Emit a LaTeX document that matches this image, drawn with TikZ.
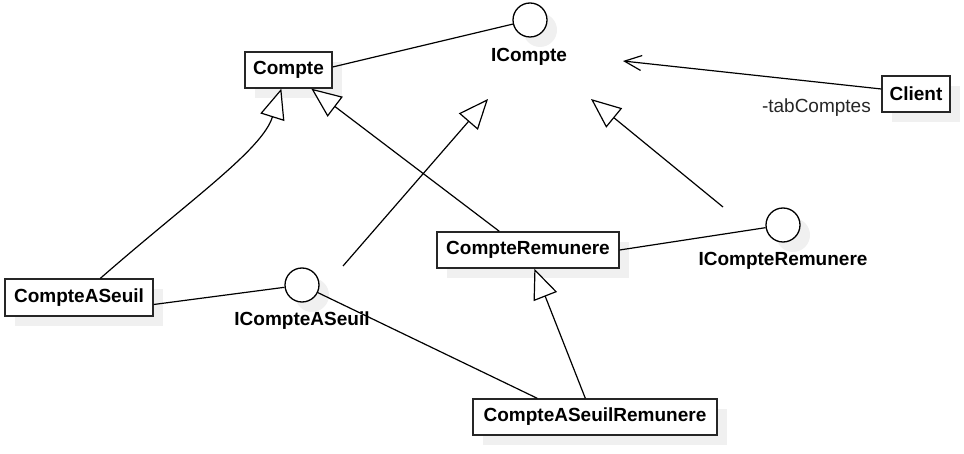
\documentclass[tikz,border=0pt]{standalone}
\usepackage{fontspec}
\setmainfont{Liberation Sans}
\usetikzlibrary{arrows.meta,shadows,calc}
\begin{document}
\begin{tikzpicture}[x=1pt,y=-1pt,
  shad/.style={drop shadow={shadow xshift=10pt,shadow yshift=-10pt,fill=black!6,opacity=1,draw=none}},
  cls/.style={draw=black!85,line width=1.3pt,fill=white,inner sep=0pt,shad,
    font=\bfseries\fontsize{19}{22}\selectfont},
  iface/.style={circle,draw=black,line width=1.3pt,fill=white,minimum size=34pt,inner sep=0pt,shad},
  lbl/.style={inner sep=0pt,font=\bfseries\fontsize{19}{22}\selectfont},
  rlbl/.style={inner sep=0pt,font=\fontsize{19}{22}\selectfont,text=black!85},
  conn/.style={line width=1.2pt,black},
  inh/.style={conn,-{Triangle[fill=white,length=30pt,width=25pt]}},
  assoc/.style={conn,-{Straight Barb[length=17pt,width=15pt]}}]
\useasboundingbox (0,0) rectangle (964,454);

% classes
\node[cls,minimum width=87pt,minimum height=36pt] (Compte) at (288.5,70) {Compte};
\node[cls,minimum width=68pt,minimum height=36pt] (Client) at (916,94) {Client};
\node[cls,minimum width=148pt,minimum height=37pt] (CAS) at (79,297.5) {CompteASeuil};
\node[cls,minimum width=182pt,minimum height=36pt] (CR) at (528,250) {CompteRemunere};
\node[cls,minimum width=244pt,minimum height=36pt] (CASR) at (595,417) {CompteASeuilRemunere};

% interfaces
\node[iface] (IC) at (530,20) {};
\node[lbl] (ICl) at (529,57) {ICompte};
\node[iface] (ICAS) at (302,285) {};
\node[lbl] (ICASl) at (302,321) {ICompteASeuil};
\node[iface] (ICR) at (783,225) {};
\node[lbl] (ICRl) at (783,261) {ICompteRemunere};

% free ends
\coordinate (tipA) at (488,99);
\coordinate (tipB) at (591,99);
\coordinate (srcA) at (343,266);
\coordinate (srcB) at (723,207);
\coordinate (tipCl) at (623,61);

% lollipop links
\draw[conn] ([yshift=3pt]Compte.east) -- (IC);
\draw[conn] ([yshift=-7pt]CAS.east) -- (ICAS);
\draw[conn] (CR.east) -- (ICR);
\draw[conn] ($(CASR.north west)+(65,0)$) -- (ICAS);

% inheritance
\draw[inh] ($(CASR.north west)+(113,0)$) -- ($(CR.south west)+(98,0)$);
\draw[inh] ($(CR.north west)+(63,0)$) -- ($(Compte.south west)+(67,0)$);
\draw[inh] ($(CAS.north west)+(96,0)$) .. controls (190,200) and (262,150) .. ($(Compte.south west)+(37,0)$);
\draw[inh] (srcA) -- (tipA);
\draw[inh] (srcB) -- (tipB);

% association
\draw[assoc] ([yshift=5pt]Client.west) -- (tipCl);
\node[rlbl,anchor=base east] (tabl) at (871,113) {-tabComptes};
\end{tikzpicture}
\end{document}
